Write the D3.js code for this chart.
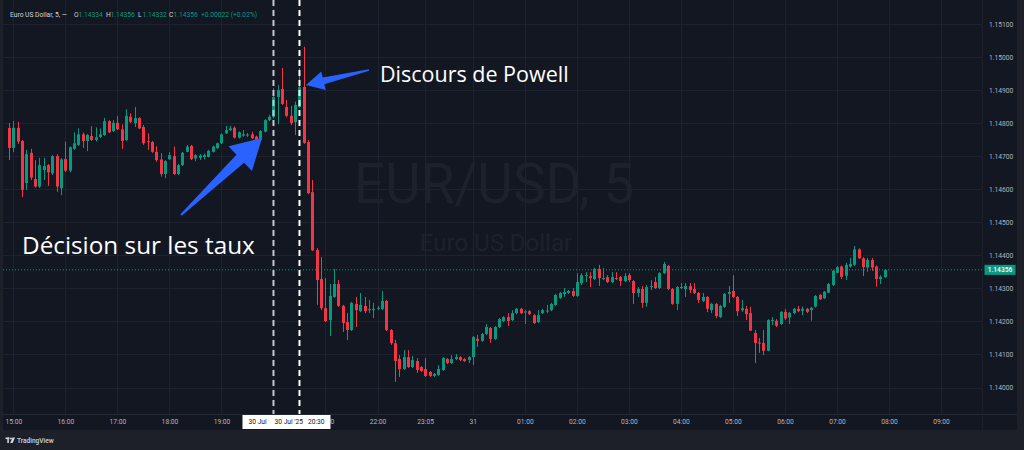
<!DOCTYPE html>
<html><head><meta charset="utf-8">
<script src="https://cdn.jsdelivr.net/npm/d3@7"></script>
<style>html,body{margin:0;padding:0;background:#1d2029;}svg{display:block}</style>
</head><body><svg id="c" width="1024" height="450"></svg>
<script>
// ---- data (5-minute candles, bar index 0 = 15:00) ----
const firstBar = -1;
const opens = [
1.14785,
1.14725,1.14785,1.14746,1.14619,1.14710,1.14631,1.14608,1.14658,1.14673,1.14648,
1.14700,1.14603,1.14691,1.14656,1.14722,1.14734,1.14766,1.14746,1.14761,1.14749,
1.14758,1.14764,1.14806,1.14776,1.14801,1.14781,1.14749,1.14819,1.14800,1.14815,
1.14788,1.14745,1.14743,1.14713,1.14690,1.14646,1.14691,1.14700,1.14646,1.14673,
1.14713,1.14731,1.14693,1.14695,1.14697,1.14698,1.14713,1.14724,1.14739,1.14769,
1.14779,1.14786,1.14756,1.14762,1.14762,1.14766,1.14759,1.14749,1.14774,1.14809,
1.14819,1.14879,1.14903,1.14849,1.14822,1.14803,1.14849,1.14909,1.14743,1.14591,
1.14416,1.14328,1.14240,1.14204,1.14274,1.14313,1.14247,1.14198,1.14174,1.14253,
1.14231,1.14247,1.14235,1.14234,1.14238,1.14238,1.14262,1.14174,1.14134,1.14086,
1.14056,1.14092,1.14062,1.14080,1.14062,1.14056,1.14047,1.14035,1.14038,1.14053,
1.14086,1.14074,1.14086,1.14092,1.14086,1.14083,1.14092,1.14147,1.14141,1.14162,
1.14180,1.14147,1.14183,1.14201,1.14213,1.14204,1.14225,1.14238,1.14228,1.14231,
1.14219,1.14198,1.14225,1.14231,1.14234,1.14250,1.14271,1.14283,1.14286,1.14292,
1.14277,1.14316,1.14338,1.14337,1.14328,1.14359,1.14330,1.14334,1.14319,1.14331,
1.14334,1.14322,1.14340,1.14322,1.14286,1.14298,1.14256,1.14306,1.14319,1.14301,
1.14346,1.14368,1.14298,1.14253,1.14304,1.14298,1.14307,1.14298,1.14286,1.14262,
1.14274,1.14234,1.14253,1.14213,1.14244,1.14283,1.14292,1.14274,1.14234,1.14238,
1.14225,1.14165,1.14136,1.14135,1.14111,1.14203,1.14202,1.14192,1.14229,1.14212,
1.14225,1.14238,1.14232,1.14238,1.14234,1.14245,1.14280,1.14270,1.14287,1.14310,
1.14347,1.14366,1.14338,1.14366,1.14371,1.14418,1.14391,1.14363,1.14386,1.14366,
1.14328,1.14334];
const highs = [
1.14800,
1.14806,1.14804,1.14749,1.14719,1.14722,1.14688,1.14695,1.14695,1.14676,1.14703,
1.14706,1.14694,1.14744,1.14729,1.14772,1.14784,1.14772,1.14767,1.14791,1.14787,
1.14784,1.14816,1.14809,1.14809,1.14822,1.14796,1.14842,1.14830,1.14849,1.14818,
1.14794,1.14769,1.14746,1.14730,1.14709,1.14688,1.14712,1.14729,1.14676,1.14713,
1.14734,1.14734,1.14706,1.14706,1.14708,1.14719,1.14732,1.14741,1.14769,1.14792,
1.14792,1.14790,1.14775,1.14779,1.14770,1.14774,1.14762,1.14779,1.14812,1.14825,
1.14906,1.14915,1.14967,1.14870,1.14852,1.14865,1.14967,1.15031,1.14749,1.14628,
1.14422,1.14395,1.14331,1.14313,1.14359,1.14325,1.14250,1.14225,1.14259,1.14274,
1.14286,1.14274,1.14265,1.14256,1.14247,1.14292,1.14265,1.14177,1.14144,1.14098,
1.14113,1.14113,1.14095,1.14089,1.14065,1.14089,1.14050,1.14044,1.14068,1.14092,
1.14089,1.14098,1.14101,1.14095,1.14089,1.14095,1.14156,1.14159,1.14165,1.14192,
1.14183,1.14186,1.14210,1.14216,1.14225,1.14234,1.14241,1.14241,1.14234,1.14234,
1.14222,1.14234,1.14238,1.14250,1.14256,1.14283,1.14289,1.14301,1.14295,1.14301,
1.14346,1.14346,1.14349,1.14349,1.14362,1.14371,1.14362,1.14340,1.14349,1.14349,
1.14337,1.14346,1.14346,1.14325,1.14304,1.14307,1.14310,1.14325,1.14334,1.14349,
1.14380,1.14371,1.14301,1.14307,1.14316,1.14316,1.14316,1.14316,1.14289,1.14286,
1.14277,1.14256,1.14256,1.14250,1.14286,1.14307,1.14340,1.14277,1.14265,1.14247,
1.14244,1.14174,1.14150,1.14174,1.14207,1.14213,1.14207,1.14231,1.14238,1.14228,
1.14241,1.14247,1.14245,1.14241,1.14244,1.14280,1.14283,1.14292,1.14316,1.14356,
1.14368,1.14369,1.14377,1.14392,1.14428,1.14421,1.14394,1.14392,1.14392,1.14369,
1.14340,1.14356];
const lows = [
1.14688,
1.14712,1.14737,1.14576,1.14598,1.14628,1.14605,1.14604,1.14628,1.14610,1.14643,
1.14592,1.14582,1.14652,1.14651,1.14719,1.14731,1.14725,1.14715,1.14746,1.14744,
1.14755,1.14761,1.14770,1.14773,1.14779,1.14722,1.14746,1.14800,1.14788,1.14782,
1.14734,1.14719,1.14710,1.14683,1.14638,1.14633,1.14688,1.14643,1.14643,1.14670,
1.14712,1.14688,1.14685,1.14688,1.14690,1.14696,1.14711,1.14722,1.14737,1.14767,
1.14776,1.14753,1.14753,1.14759,1.14758,1.14752,1.14746,1.14746,1.14772,1.14806,
1.14815,1.14797,1.14855,1.14818,1.14794,1.14764,1.14846,1.14737,1.14585,1.14413,
1.14250,1.14234,1.14198,1.14156,1.14271,1.14244,1.14168,1.14144,1.14171,1.14183,
1.14228,1.14225,1.14225,1.14210,1.14234,1.14234,1.14171,1.14129,1.14017,1.14032,
1.14053,1.14059,1.14059,1.14044,1.14047,1.14032,1.14032,1.14032,1.14035,1.14050,
1.14071,1.14071,1.14083,1.14080,1.14077,1.14074,1.14068,1.14123,1.14138,1.14159,
1.14135,1.14144,1.14180,1.14198,1.14186,1.14201,1.14222,1.14222,1.14192,1.14219,
1.14192,1.14195,1.14222,1.14225,1.14231,1.14247,1.14268,1.14274,1.14283,1.14274,
1.14274,1.14310,1.14319,1.14304,1.14325,1.14307,1.14325,1.14316,1.14316,1.14325,
1.14307,1.14319,1.14319,1.14253,1.14274,1.14241,1.14244,1.14295,1.14298,1.14298,
1.14343,1.14295,1.14250,1.14234,1.14298,1.14274,1.14286,1.14283,1.14256,1.14259,
1.14228,1.14225,1.14210,1.14210,1.14241,1.14256,1.14271,1.14216,1.14229,1.14204,
1.14171,1.14074,1.14105,1.14098,1.14110,1.14189,1.14183,1.14189,1.14204,1.14192,
1.14222,1.14228,1.14219,1.14225,1.14202,1.14242,1.14265,1.14268,1.14286,1.14307,
1.14346,1.14328,1.14325,1.14363,1.14368,1.14389,1.14337,1.14350,1.14353,1.14305,
1.14313,1.14332];
const closes = [
1.14725,
1.14786,1.14744,1.14598,1.14706,1.14635,1.14608,1.14673,1.14670,1.14651,1.14700,
1.14608,1.14690,1.14656,1.14727,1.14739,1.14766,1.14746,1.14764,1.14749,1.14757,
1.14766,1.14806,1.14772,1.14801,1.14781,1.14746,1.14822,1.14804,1.14815,1.14784,
1.14739,1.14743,1.14713,1.14688,1.14646,1.14685,1.14703,1.14646,1.14673,1.14710,
1.14729,1.14691,1.14703,1.14702,1.14703,1.14716,1.14729,1.14739,1.14766,1.14779,
1.14784,1.14756,1.14772,1.14766,1.14765,1.14754,1.14749,1.14776,1.14809,1.14819,
1.14879,1.14900,1.14858,1.14822,1.14800,1.14855,1.14909,1.14740,1.14588,1.14415,
1.14325,1.14240,1.14201,1.14277,1.14313,1.14247,1.14195,1.14174,1.14256,1.14234,
1.14250,1.14231,1.14237,1.14238,1.14241,1.14262,1.14174,1.14134,1.14080,1.14056,
1.14092,1.14062,1.14083,1.14053,1.14050,1.14035,1.14035,1.14041,1.14056,1.14089,
1.14074,1.14086,1.14092,1.14083,1.14080,1.14092,1.14153,1.14141,1.14162,1.14183,
1.14147,1.14183,1.14207,1.14213,1.14201,1.14225,1.14238,1.14225,1.14230,1.14222,
1.14195,1.14219,1.14234,1.14233,1.14253,1.14280,1.14286,1.14289,1.14292,1.14277,
1.14319,1.14340,1.14340,1.14331,1.14359,1.14331,1.14331,1.14319,1.14334,1.14330,
1.14322,1.14337,1.14325,1.14286,1.14298,1.14256,1.14304,1.14307,1.14301,1.14346,
1.14374,1.14298,1.14253,1.14304,1.14303,1.14307,1.14295,1.14286,1.14265,1.14274,
1.14238,1.14253,1.14216,1.14247,1.14283,1.14289,1.14274,1.14231,1.14240,1.14222,
1.14172,1.14135,1.14134,1.14111,1.14204,1.14204,1.14187,1.14229,1.14209,1.14226,
1.14238,1.14231,1.14238,1.14229,1.14241,1.14277,1.14267,1.14290,1.14313,1.14353,
1.14364,1.14335,1.14371,1.14374,1.14418,1.14391,1.14364,1.14386,1.14363,1.14328,
1.14335,1.14356];

const priceTicks = [1.140,1.141,1.142,1.143,1.144,1.145,1.146,1.147,1.148,1.149,1.150,1.151];
const timeTickIdx = [0,12,24,36,48,60,72,84,95,106,118,130,142,154,166,178,190,202,214];
const timeTickLabels = ["15:00","16:00","17:00","18:00","19:00","20:00","21:00","22:00","23:05","31",
  "01:00","02:00","03:00","04:00","05:00","06:00","07:00","08:00","09:00"];
const hiddenTickLabels = ["20:00"]; // covered by the event time markers
const lastPrice = 1.14356;
const headerTitle = "Euro US Dollar, 5, \u2014";
const headerKeys = ["O","H","L","C"];
const headerVals = ["1.14334","1.14356","1.14332","1.14356"];
const headerChange = "+0.00022 (+0.02%)";
const eventBars = [60, 66];
const eventLabels = ["30 Jul '", "30 Jul '25   20:30"]; // first one is covered by the second
const notes = ["Discours de Powell","Décision sur les taux"];

// ---- drawing ----
const UP = "#089981", DOWN = "#f23645";
const AXC = "#b2b5be";
const svg = d3.select("#c");
const PL = 3, PR = 982, PT = 0, PB = 414, RIGHT = 1017, BOT = 430;

const x = d3.scaleLinear().domain([0, 214]).range([13.4, 941]);
const y = d3.scaleLinear().domain([1.140, 1.151]).range([387.5, 23.95]);

svg.append("rect").attr("width",1024).attr("height",450).attr("fill","#1d2029");
svg.append("rect").attr("x",PL).attr("y",0).attr("width",RIGHT-PL).attr("height",BOT).attr("fill","#131722");

const defs = svg.append("defs");
defs.append("clipPath").attr("id","plot").append("rect").attr("x",PL).attr("y",PT).attr("width",PR-PL).attr("height",PB-PT);
defs.append("clipPath").attr("id","taxis").append("rect").attr("x",5.5).attr("y",0).attr("width",PR-5.5).attr("height",BOT-PB);

const plot = svg.append("g").attr("clip-path","url(#plot)");

// grid
plot.append("g").selectAll("line").data(priceTicks).join("line")
  .attr("x1",PL).attr("x2",PR).attr("y1",d=>Math.round(y(d))+0.5).attr("y2",d=>Math.round(y(d))+0.5)
  .attr("stroke","#1e2230").attr("stroke-width",1);
plot.append("g").selectAll("line").data(timeTickIdx).join("line")
  .attr("y1",PT).attr("y2",PB).attr("x1",d=>Math.round(x(d))+0.5).attr("x2",d=>Math.round(x(d))+0.5)
  .attr("stroke","#1e2230").attr("stroke-width",1);

// watermark
plot.append("text").attr("x",494).attr("y",203).attr("text-anchor","middle")
  .attr("font-family","Roboto, 'Noto Sans', sans-serif").attr("font-size",55)
  .attr("fill","#1d212c").text("EUR/USD, 5");
plot.append("text").attr("x",496).attr("y",251).attr("text-anchor","middle")
  .attr("font-family","Roboto, 'Noto Sans', sans-serif").attr("font-size",24)
  .attr("fill","#1d212c").text("Euro US Dollar");

// candles
const bars = opens.map((o,k)=>({i:firstBar+k,o,h:highs[k],l:lows[k],c:closes[k]}));
const cg = plot.append("g");
cg.selectAll("line.w").data(bars).join("line").attr("class","w")
  .attr("x1",d=>Math.round(x(d.i))+0.5).attr("x2",d=>Math.round(x(d.i))+0.5)
  .attr("y1",d=>y(d.h)).attr("y2",d=>y(d.l))
  .attr("stroke",d=>d.c>=d.o?UP:DOWN).attr("stroke-width",1);
cg.selectAll("rect.b").data(bars).join("rect").attr("class","b")
  .attr("x",d=>Math.round(x(d.i))-1).attr("width",3)
  .attr("y",d=>y(Math.max(d.o,d.c)))
  .attr("height",d=>Math.max(1,y(Math.min(d.o,d.c))-y(Math.max(d.o,d.c))))
  .attr("fill",d=>d.c>=d.o?UP:DOWN);

// last price dotted line
plot.append("line").attr("x1",PL).attr("x2",PR).attr("y1",y(lastPrice)).attr("y2",y(lastPrice))
  .attr("stroke",UP).attr("stroke-width",1).attr("stroke-dasharray","1,2");

// event dashed lines
svg.append("g").selectAll("line").data(eventBars).join("line")
  .attr("x1",d=>x(d)).attr("x2",d=>x(d)).attr("y1",PT).attr("y2",PB)
  .attr("stroke",(d,i)=>i===0?"#c4c7cf":"#ffffff").attr("stroke-width",2).attr("stroke-dasharray","6,4");

// annotation arrows
function arrow(tail, tip, headLen, headHalf, shaftHalf, tailHalf){
  const dx=tip[0]-tail[0], dy=tip[1]-tail[1], L=Math.hypot(dx,dy);
  const ux=dx/L, uy=dy/L, px=-uy, py=ux;
  const bx=tip[0]-ux*headLen, by=tip[1]-uy*headLen;
  return [
    [tail[0]+px*tailHalf, tail[1]+py*tailHalf],
    [bx+px*shaftHalf, by+py*shaftHalf],
    [bx+px*headHalf, by+py*headHalf],
    tip,
    [bx-px*headHalf, by-py*headHalf],
    [bx-px*shaftHalf, by-py*shaftHalf],
    [tail[0]-px*tailHalf, tail[1]-py*tailHalf]
  ];
}
const ARROW = "#2962ff";
svg.append("polygon").attr("points",arrow([181,215],[262,138],30,17,5.5,1).map(p=>p.join(",")).join(" ")).attr("fill",ARROW);
svg.append("polygon").attr("points",arrow([369,70],[306,85],18,9.5,3.5,0.8).map(p=>p.join(",")).join(" ")).attr("fill",ARROW);

svg.append("text").attr("x",380).attr("y",82).attr("font-family","'Open Sans', 'Noto Sans', sans-serif")
  .attr("font-size",21.5).attr("fill","#ffffff").text(notes[0]);
svg.append("text").attr("x",22).attr("y",254).attr("font-family","'Open Sans', 'Noto Sans', sans-serif")
  .attr("font-size",24.3).attr("fill","#ffffff").text(notes[1]);

// axes separators
svg.append("line").attr("x1",PL).attr("x2",RIGHT).attr("y1",PB+0.5).attr("y2",PB+0.5).attr("stroke","#262a35");
svg.append("line").attr("x1",PR+0.5).attr("x2",PR+0.5).attr("y1",0).attr("y2",BOT).attr("stroke","#1a1e29");

// price axis
const ya = svg.append("g").attr("transform",`translate(989,0)`)
  .call(d3.axisRight(y).tickValues(priceTicks).tickFormat(d3.format(".5f")).tickSize(0).tickPadding(0));
ya.select(".domain").remove();
ya.selectAll("text").attr("fill",AXC).attr("font-family","Roboto, sans-serif").attr("font-size",6.7);

// last price label
svg.append("rect").attr("x",984.5).attr("y",y(lastPrice)-5).attr("width",31).attr("height",10).attr("fill",UP);
svg.append("text").attr("x",1000).attr("y",y(lastPrice)).attr("dy","0.35em").attr("text-anchor","middle")
  .attr("fill","#ffffff").attr("font-family","Roboto, sans-serif").attr("font-size",6.7).attr("font-weight",500)
  .text(d3.format(".5f")(lastPrice));

// time axis
const xa = svg.append("g").attr("transform",`translate(0,${PB})`).attr("clip-path","url(#taxis)")
  .call(d3.axisBottom(x).tickValues(timeTickIdx)
    .tickFormat((d,i)=>hiddenTickLabels.includes(timeTickLabels[i]) ? "" : timeTickLabels[i])
    .tickSize(0).tickPadding(5.5));
xa.select(".domain").remove();
xa.selectAll("text").attr("fill",AXC).attr("font-family","Roboto, sans-serif").attr("font-size",6.7);

// event time labels
eventBars.forEach((b,i)=>{
  const cx = x(b), left = cx-31;
  svg.append("rect").attr("x",left).attr("y",PB+1).attr("width",62).attr("height",14).attr("fill","#ffffff");
  svg.append("text").attr("x",left+6).attr("y",PB+8).attr("dy","0.35em").attr("fill","#131722")
    .attr("xml:space","preserve").style("white-space","pre")
    .attr("font-family","Roboto, sans-serif").attr("font-size",6.7).text(eventLabels[i]);
});

// header legend
const hg = svg.append("g").attr("font-family","Roboto, sans-serif").attr("font-size",6.7);
hg.append("text").attr("x",10).attr("y",16.5).attr("fill","#d1d4dc").text(headerTitle);
const keyX = [74,106,138,169];
headerKeys.forEach((k,i)=>{
  hg.append("text").attr("x",keyX[i]).attr("y",16.5).attr("fill","#d1d4dc").text(k);
  hg.append("text").attr("x",keyX[i]+4.5).attr("y",16.5).attr("fill",UP).text(headerVals[i]);
});
hg.append("text").attr("x",201).attr("y",16.5).attr("fill",UP).text(headerChange);

// footer logo
const fg = svg.append("g").attr("fill","#d1d4dc");
fg.append("rect").attr("x",5.5).attr("y",437.5).attr("width",4).attr("height",1.6);
fg.append("rect").attr("x",7.3).attr("y",437.5).attr("width",1.6).attr("height",5.5);
fg.append("circle").attr("cx",11).attr("cy",438.5).attr("r",1);
fg.append("path").attr("d","M12.5,437.5 L15,437.5 L12.6,443 L10.2,443 Z");
fg.append("text").attr("x",17).attr("y",442.8).attr("font-family","Roboto, sans-serif").attr("font-size",6.6).attr("font-weight",500).text("TradingView");
</script></body></html>
